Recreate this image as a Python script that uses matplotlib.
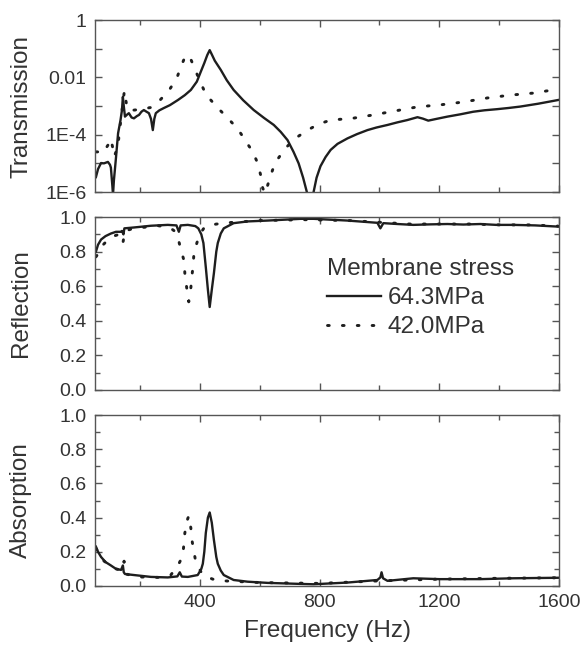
import matplotlib
matplotlib.use('Agg')
import matplotlib.pyplot as plt
from matplotlib.ticker import FixedLocator, FixedFormatter, MultipleLocator, NullFormatter
import numpy as np

plt.rcParams['font.family'] = ['Liberation Sans', 'DejaVu Sans']

# --- transmission (log10 values) ---
trans_f_a = [53, 60, 70, 80, 93, 100, 103, 108, 110, 113, 120, 127, 135, 140, 143, 146, 150,
             157, 163, 172, 180, 190, 197, 205, 213, 222, 230, 237, 243, 248, 253, 265, 280,
             300, 327, 350, 370, 390, 403, 415, 425, 433, 440, 450, 470, 490, 513, 545, 580,
             615, 647, 670, 693, 713, 730, 745, 760, 770, 780, 790, 803, 820, 837, 860, 893,
             925, 960, 990, 1027, 1060, 1093, 1127, 1145, 1163, 1190, 1227, 1270, 1313, 1350,
             1393, 1430, 1470, 1530, 1597]
trans_log_a = [-5.48, -5.2, -4.99, -5.0, -4.95, -5.05, -5.15, -5.8, -6.1, -5.6, -4.8, -3.95,
               -3.5, -3.14, -2.68, -3.0, -3.37, -3.3, -3.25, -3.4, -3.43, -3.35, -3.31, -3.2,
               -3.14, -3.2, -3.25, -3.45, -3.84, -3.45, -3.25, -3.15, -3.07, -2.97, -2.79,
               -2.62, -2.44, -2.15, -1.81, -1.5, -1.22, -1.05, -1.2, -1.42, -1.74, -2.1, -2.44,
               -2.8, -3.14, -3.42, -3.66, -3.9, -4.19, -4.6, -5.0, -5.5, -6.1, -7.0, -6.0,
               -5.5, -5.1, -4.78, -4.53, -4.32, -4.13, -3.98, -3.84, -3.75, -3.66, -3.57,
               -3.49, -3.39, -3.44, -3.51, -3.45, -3.37, -3.29, -3.2, -3.15, -3.11, -3.07,
               -3.02, -2.92, -2.79]

trans_f_b = [53, 63, 75, 85, 97, 103, 110, 114, 126, 135, 142, 148, 156, 164, 200, 237, 264,
             298, 323, 337, 353, 370, 387, 403, 420, 453, 493, 527, 553, 577, 593, 603, 610,
             618, 630, 643, 663, 687, 720, 760, 797, 837, 909, 980, 1053, 1127, 1203, 1280,
             1360, 1437, 1513, 1597]
trans_log_b = [-4.6, -4.6, -4.65, -4.5, -4.3, -4.15, -4.5, -4.77, -4.42, -3.6, -3.0, -2.47,
               -3.0, -3.16, -3.12, -3.05, -2.83, -2.44, -2.03, -1.63, -1.22, -1.37, -1.8,
               -2.19, -2.59, -2.99, -3.42, -3.8, -4.22, -4.6, -4.99, -5.4, -5.86, -6.05,
               -5.65, -5.23, -4.81, -4.46, -4.12, -3.84, -3.63, -3.49, -3.43, -3.31, -3.17,
               -3.03, -2.96, -2.86, -2.72, -2.62, -2.55, -2.41]

# --- reflection ---
refl_f_a = [53, 60, 70, 85, 103, 120, 137, 140, 145, 148, 180, 237, 293, 322, 330, 336, 360,
            385, 395, 405, 412, 420, 427, 433, 440, 447, 455, 460, 470, 480, 513, 560, 627,
            737, 780, 893, 993, 1003, 1013, 1060, 1113, 1170, 1227, 1280, 1337, 1390, 1447,
            1520, 1597]
refl_a = [0.80, 0.84, 0.87, 0.89, 0.905, 0.915, 0.915, 0.92, 0.90, 0.935, 0.94, 0.95, 0.955,
          0.952, 0.915, 0.952, 0.955, 0.948, 0.935, 0.90, 0.85, 0.71, 0.58, 0.48, 0.58, 0.675,
          0.80, 0.85, 0.905, 0.935, 0.965, 0.975, 0.98, 0.99, 0.99, 0.98, 0.967, 0.935, 0.965,
          0.96, 0.955, 0.958, 0.96, 0.957, 0.96, 0.955, 0.955, 0.952, 0.945]

refl_f_b = [53, 57, 77, 103, 130, 143, 150, 180, 263, 303, 315, 327, 337, 347, 350, 357, 363,
            370, 373, 377, 380, 390, 400, 415, 437, 477, 513, 600, 750, 900, 1000, 1100, 1200,
            1300, 1400, 1500, 1597]
refl_b = [0.77, 0.78, 0.84, 0.885, 0.90, 0.85, 0.92, 0.935, 0.95, 0.935, 0.92, 0.88, 0.81,
          0.75, 0.675, 0.58, 0.51, 0.59, 0.65, 0.71, 0.78, 0.85, 0.90, 0.94, 0.955, 0.965,
          0.97, 0.98, 0.985, 0.98, 0.97, 0.96, 0.96, 0.96, 0.955, 0.955, 0.948]

# --- absorption ---
abs_f_a = [53, 60, 70, 85, 103, 120, 137, 143, 146, 150, 180, 237, 293, 325, 333, 340, 360,
           393, 405, 410, 415, 420, 427, 433, 440, 447, 455, 460, 470, 480, 513, 560, 627,
           737, 780, 893, 993, 1003, 1007, 1012, 1027, 1113, 1200, 1337, 1447, 1597]
abs_a = [0.23, 0.20, 0.17, 0.14, 0.12, 0.10, 0.094, 0.12, 0.08, 0.07, 0.064, 0.053, 0.05,
         0.056, 0.08, 0.055, 0.053, 0.064, 0.10, 0.13, 0.20, 0.31, 0.40, 0.43, 0.37, 0.27,
         0.17, 0.13, 0.09, 0.064, 0.035, 0.025, 0.018, 0.012, 0.01, 0.02, 0.035, 0.05, 0.08,
         0.045, 0.03, 0.045, 0.04, 0.04, 0.045, 0.048]

abs_f_b = [53, 77, 110, 140, 147, 153, 193, 263, 303, 327, 343, 347, 350, 357, 363, 370, 373,
           380, 387, 410, 443, 480, 600, 800, 1000, 1200, 1400, 1597]
abs_b = [0.22, 0.15, 0.105, 0.09, 0.145, 0.07, 0.053, 0.05, 0.064, 0.12, 0.175, 0.25, 0.31,
         0.38, 0.41, 0.34, 0.275, 0.205, 0.135, 0.064, 0.04, 0.03, 0.02, 0.015, 0.03, 0.04,
         0.045, 0.048]

labels = ['64.3MPa', '42.0MPa']
log_ticks = [1e-6, 1e-4, 1e-2, 1]
log_tick_labels = ['1E-6', '1E-4', '0.01', '1']

line_col = '#1e1e1e'
text_col = '#333333'
spine_col = '#555555'
solid_kw = dict(color=line_col, lw=1.7, ls='-')
dot_kw = dict(color=line_col, lw=2.1, ls=(0, (0.6, 4.5)), dash_capstyle='round')

fig = plt.figure(figsize=(5.83, 6.5), dpi=100)
ax1 = fig.add_axes([0.163, 0.7046, 0.796, 0.2646])
ax2 = fig.add_axes([0.163, 0.400, 0.796, 0.266])
ax3 = fig.add_axes([0.163, 0.0985, 0.796, 0.263])

# transmission
ax1.plot(trans_f_a, 10.0 ** np.array(trans_log_a), **solid_kw)
ax1.plot(trans_f_b, 10.0 ** np.array(trans_log_b), **dot_kw)
ax1.set_yscale('log')
ax1.set_ylim(1e-6, 1)
ax1.yaxis.set_major_locator(FixedLocator(log_ticks))
ax1.yaxis.set_major_formatter(FixedFormatter(log_tick_labels))
ax1.yaxis.set_minor_locator(FixedLocator([1e-5, 1e-3, 1e-1]))
ax1.yaxis.set_minor_formatter(NullFormatter())
ax1.set_ylabel('Transmission')

# reflection
ax2.plot(refl_f_a, refl_a, label=labels[0], **solid_kw)
ax2.plot(refl_f_b, refl_b, label=labels[1], **dot_kw)
ax2.set_ylim(0, 1.0)
ax2.set_ylabel('Reflection')
leg = ax2.legend(title='Membrane stress', loc='upper left', bbox_to_anchor=(0.5, 0.765),
                 frameon=False, fontsize=17.5, title_fontsize=17.5, handlelength=2.2,
                 handletextpad=0.3, labelspacing=0.3, borderpad=0, borderaxespad=0,
                 alignment='left')
for t in leg.get_texts():
    t.set_color(text_col)
leg.get_title().set_color(text_col)

# absorption
ax3.plot(abs_f_a, abs_a, **solid_kw)
ax3.plot(abs_f_b, abs_b, **dot_kw)
ax3.set_ylim(0, 1.0)
ax3.set_ylabel('Absorption')
ax3.set_xlabel('Frequency (Hz)', fontsize=17.5, color=text_col, labelpad=6)

for ax in (ax1, ax2, ax3):
    ax.set_xlim(50, 1600)
    ax.xaxis.set_major_locator(MultipleLocator(400))
    ax.xaxis.set_minor_locator(MultipleLocator(200))
    if ax is not ax1:
        ax.yaxis.set_major_locator(MultipleLocator(0.2))
        ax.yaxis.set_minor_locator(MultipleLocator(0.1))
        ax.yaxis.set_major_formatter(plt.FormatStrFormatter('%.1f'))
    ax.tick_params(which='both', direction='in', top=True, right=True,
                   labelsize=14, labelcolor=text_col, color=spine_col, width=1.0)
    ax.tick_params(which='major', length=5, pad=6)
    ax.tick_params(which='minor', length=3.5)
    if ax is ax1:
        ax.tick_params(axis='y', which='minor', length=5)
    if ax is not ax3:
        ax.tick_params(labelbottom=False)
    for s in ax.spines.values():
        s.set_color(spine_col)
        s.set_linewidth(1.0)
    ax.yaxis.label.set_size(17.5)
    ax.yaxis.label.set_color(text_col)
    ax.yaxis.set_label_coords(-0.135, 0.5)

fig.savefig('out.png', dpi=100)
